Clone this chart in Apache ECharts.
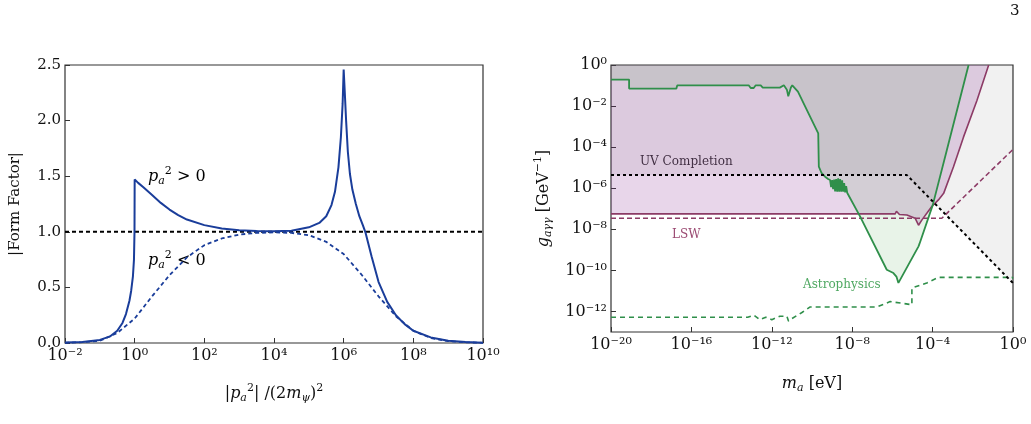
<!DOCTYPE html>
<html>
<head>
<meta charset="utf-8">
<script src="https://cdn.jsdelivr.net/npm/echarts@6/dist/echarts.min.js"></script>
<style>
  html, body { margin: 0; padding: 0; background: #fff; }
  #main { width: 1031px; height: 424px; }
</style>
</head>
<body>
<div id="main"></div>
<script>
// ---- left panel: |Form Factor| vs log10(|p_a^2|/(2m_psi)^2) ----
const ffPosLogX = [-2, -1.5, -1, -0.7, -0.5, -0.35, -0.25, -0.15, -0.1, -0.05, -0.02, -0.005, 0, 0.1, 0.25, 0.5, 0.75, 1, 1.25, 1.5, 2, 2.5, 3, 3.5, 4, 4.5, 5, 5.3, 5.5, 5.65, 5.75, 5.85, 5.92, 5.97, 6, 6.04, 6.07, 6.12, 6.18, 6.25, 6.35, 6.45, 6.55, 6.63, 6.8, 7, 7.25, 7.5, 7.75, 8, 8.5, 9, 9.5, 10]
const ffPos = [0.004, 0.01, 0.028, 0.06, 0.11, 0.18, 0.26, 0.38, 0.47, 0.6, 0.75, 1.0, 1.47, 1.44, 1.4, 1.33, 1.26, 1.2, 1.15, 1.11, 1.06, 1.03, 1.015, 1.007, 1.005, 1.01, 1.04, 1.08, 1.14, 1.24, 1.36, 1.58, 1.85, 2.15, 2.46, 2.2, 2.0, 1.72, 1.52, 1.38, 1.25, 1.14, 1.06, 0.99, 0.78, 0.55, 0.37, 0.25, 0.17, 0.11, 0.05, 0.02, 0.008, 0.003]
const ffNegLogX = [-2, -1.5, -1, -0.5, 0, 0.5, 1, 1.5, 2, 2.5, 3, 3.5, 4, 4.5, 5, 5.5, 6, 6.5, 7, 7.5, 8, 8.5, 9, 9.5, 10]
const ffNeg = [0.002, 0.007, 0.02, 0.09, 0.22, 0.42, 0.61, 0.77, 0.88, 0.94, 0.975, 0.99, 0.995, 0.99, 0.97, 0.91, 0.8, 0.62, 0.42, 0.24, 0.11, 0.045, 0.017, 0.006, 0.002]
const unityLogX = [-2, 10]
const unity = [1, 1]

// ---- right panel: log10(g_agg / GeV^-1) vs log10(m_a / eV) ----
const astroLogM = [-20, -19.1, -19.1, -16.75, -16.7, -13.15, -13.05, -12.9, -12.8, -12.55, -12.45, -11.6, -11.4, -11.25, -11.18, -11.05, -10.98, -10.7, -9.69, -9.66, -9.52, -9.35, -9.2, -9.1, -9.05, -9.0, -8.95, -8.9, -8.85, -8.8, -8.75, -8.7, -8.65, -8.6, -8.55, -8.5, -8.45, -8.4, -8.35, -8.3, -8.25, -8.19, -7.61, -6.28, -5.95, -5.8, -5.7, -5.2, -4.7, -4.65, -3.99, -3.29, -2.21]
const astroLogG = [-0.71, -0.71, -1.15, -1.15, -0.99, -0.99, -1.12, -1.12, -0.99, -0.99, -1.1, -1.1, -0.99, -1.2, -1.52, -1.1, -0.99, -1.3, -3.33, -4.95, -5.27, -5.44, -5.55, -5.6, -5.95, -5.6, -6.05, -5.58, -6.15, -5.55, -6.17, -5.52, -6.17, -5.55, -6.17, -5.62, -6.17, -5.75, -6.2, -5.9, -6.22, -6.24, -7.37, -9.97, -10.13, -10.3, -10.61, -9.72, -8.83, -8.7, -6.81, -4.14, 0]
const lswLogM = [-20, -5.86, -5.8, -5.72, -5.65, -5.28, -4.87, -4.7, -4.53, -4.28, -4.04, -3.71, -3.45, -2.96, -2.46, -1.79, -1.21]
const lswLogG = [-7.25, -7.25, -7.12, -7.2, -7.28, -7.3, -7.46, -7.8, -7.54, -7.21, -6.89, -6.57, -6.25, -4.95, -3.5, -1.72, 0]
const lswLowLogM = [-20, -3.54, 0]
const lswLowLogG = [-7.46, -7.46, -4.11]
const uvLogM = [-20, -5.28, 0]
const uvLogG = [-5.36, -5.36, -10.62]
const astroLowLogM = [-20, -13.2, -12.9, -12.6, -12.3, -12.0, -11.6, -11.25, -11.17, -11.0, -10.5, -10.09, -6.78, -6.11, -5.03, -5.03, -4.29, -3.71, -0.05, 0]
const astroLowLogG = [-12.28, -12.28, -12.18, -12.4, -12.28, -12.4, -12.23, -12.23, -12.47, -12.35, -12.05, -11.78, -11.78, -11.52, -11.67, -10.86, -10.61, -10.34, -10.34, -10.4]

const gTicks = [-12, -10, -8, -6, -4, -2, 0]

const FONT = 'DejaVu Serif'
const zip = (xs, ys) => xs.map((x, i) => [x, ys[i]])

// unicode superscripts for the 10^n tick labels
const SUP = { '-': '\u207b', '0': '\u2070', '1': '\u00b9', '2': '\u00b2', '3': '\u00b3', '4': '\u2074', '5': '\u2075', '6': '\u2076', '7': '\u2077', '8': '\u2078', '9': '\u2079' }
const pow10 = (v) => '10' + String(Math.round(v)).split('').map(c => SUP[c]).join('')

// rich styles for math-ish names (padding lifts / drops the small tokens)
const rich = {
  i: { fontFamily: FONT, fontSize: 16, fontStyle: 'italic', color: '#111' },
  t: { fontFamily: FONT, fontSize: 16, color: '#111' },
  sub: { fontFamily: FONT, fontSize: 11, fontStyle: 'italic', color: '#111', padding: [9, 0, 0, 0] },
  sup: { fontFamily: FONT, fontSize: 11, color: '#111', padding: [0, 0, 11, 0] }
}

function line(xi, yi, data, color, width, type) {
  return {
    type: 'line', xAxisIndex: xi, yAxisIndex: yi, data: data,
    showSymbol: false, silent: true,
    lineStyle: { color: color, width: width, type: type }
  }
}
function fill(data, color) {
  return {
    type: 'line', xAxisIndex: 1, yAxisIndex: 1, data: data,
    showSymbol: false, silent: true,
    lineStyle: { width: 0 },
    areaStyle: { origin: 'end', color: color, opacity: 1 }
  }
}

const chart = echarts.init(document.getElementById('main'))
const tick = { show: true, inside: true, length: 5, lineStyle: { color: '#333', width: 1 } }
const noLine = { show: false, onZero: false }
const tickFont = { fontFamily: FONT, fontSize: 16, color: '#111' }

chart.setOption({
  animation: false,
  backgroundColor: '#fff',
  grid: [
    { left: 65, top: 65, width: 418, height: 278, show: true, borderColor: '#333', borderWidth: 1.2 },
    { left: 611, top: 65, width: 402, height: 267, show: true, borderColor: '#333', borderWidth: 1.2 }
  ],
  xAxis: [
    {
      gridIndex: 0, type: 'value', min: -2, max: 10, interval: 2,
      axisLine: noLine, splitLine: { show: false }, axisTick: tick,
      axisLabel: Object.assign({ margin: 5, formatter: pow10 }, tickFont),
      name: '{t||}{i|p}{sub|a}{sup|2}{t|| /(2}{i|m}{sub|\u03c8}{t|)}{sup|2}',
      nameLocation: 'middle', nameGap: 40, nameTextStyle: { rich: rich }
    },
    {
      gridIndex: 1, type: 'value', min: -20, max: 0, interval: 4,
      axisLine: noLine, splitLine: { show: false }, axisTick: tick,
      axisLabel: Object.assign({ margin: 5, formatter: pow10 }, tickFont),
      name: '{i|m}{sub|a}{t| [eV]}',
      nameLocation: 'middle', nameGap: 42, nameTextStyle: { rich: rich }
    }
  ],
  yAxis: [
    {
      gridIndex: 0, type: 'value', min: 0, max: 2.5, interval: 0.5,
      axisLine: noLine, splitLine: { show: false }, axisTick: tick,
      axisLabel: { margin: 4, fontFamily: FONT, fontSize: 15, color: '#111', formatter: (v) => v.toFixed(1) },
      name: '|Form Factor|', nameLocation: 'middle', nameRotate: 90, nameGap: 42,
      nameTextStyle: { fontFamily: FONT, fontSize: 15, color: '#111' }
    },
    {
      gridIndex: 1, type: 'value', min: -13, max: 0,
      axisLine: noLine, splitLine: { show: false },
      axisTick: Object.assign({ customValues: gTicks }, tick),
      axisLabel: Object.assign({ margin: 4, customValues: gTicks, formatter: pow10 }, tickFont),
      name: '{i|g}{sub|a\u03b3\u03b3}{t| [GeV}{sup|\u22121}{t|]}', nameLocation: 'middle', nameRotate: 90, nameGap: 56,
      nameTextStyle: { rich: rich }
    }
  ],
  series: [
    line(0, 0, zip(unityLogX, unity), '#000', 2, [4, 3]),
    line(0, 0, zip(ffNegLogX, ffNeg), '#1a3d9a', 1.8, [4, 3]),
    line(0, 0, zip(ffPosLogX, ffPos), '#1a3d9a', 2, 'solid'),
    // shaded regions (excluded above each curve)
    fill(zip(uvLogM, uvLogG), 'rgba(0,0,0,0.055)'),
    fill(zip(lswLogM, lswLogG), 'rgba(140,50,150,0.2)'),
    fill(zip(astroLogM, astroLogG), 'rgba(34,139,34,0.1)'),
    line(1, 1, zip(lswLowLogM, lswLowLogG), '#8c3b66', 1.6, [5, 3]),
    line(1, 1, zip(lswLogM, lswLogG), '#8c3b66', 1.6, 'solid'),
    line(1, 1, zip(astroLogM, astroLogG), '#2f8f4a', 1.8, 'solid'),
    line(1, 1, zip(astroLowLogM, astroLowLogG), '#2f8f4a', 1.6, [5, 4]),
    line(1, 1, zip(uvLogM, uvLogG), '#000', 2, [3, 3])
  ],
  graphic: [
    { type: 'text', left: 148, top: 166, style: { text: '{i|p}{sub|a}{sup|2}{t| > 0}', rich: rich } },
    { type: 'text', left: 148, top: 250, style: { text: '{i|p}{sub|a}{sup|2}{t| < 0}', rich: rich } },
    { type: 'text', left: 640, top: 156, style: { text: 'UV Completion', fontFamily: FONT, fontSize: 12, fill: '#333' } },
    { type: 'text', left: 672, top: 229, style: { text: 'LSW', fontFamily: FONT, fontSize: 12, fill: '#9b4a72' } },
    { type: 'text', left: 803, top: 279, style: { text: 'Astrophysics', fontFamily: FONT, fontSize: 12, fill: '#4fa862' } },
    { type: 'text', left: 1010, top: 4, style: { text: '3', fontFamily: FONT, fontSize: 15, fill: '#111' } }
  ]
})
</script>
</body>
</html>
